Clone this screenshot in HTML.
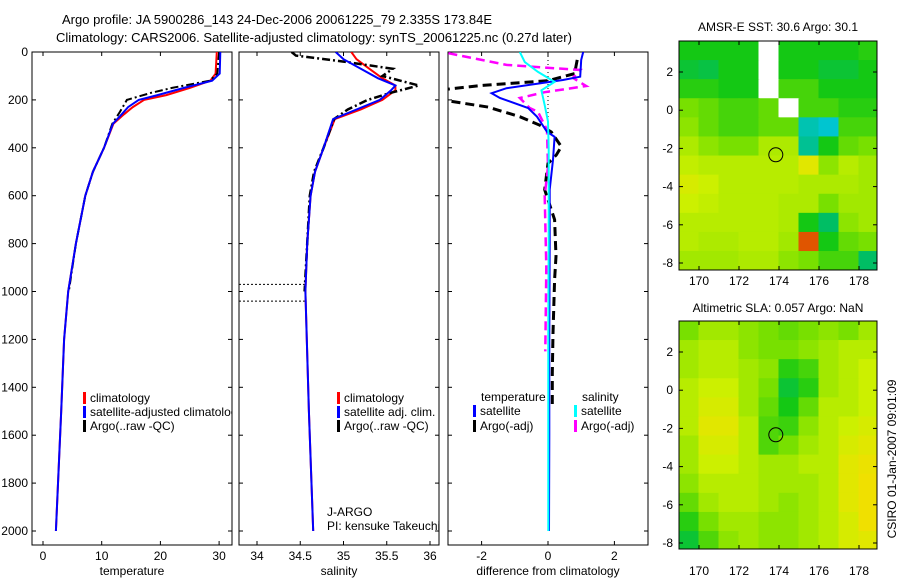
<!DOCTYPE html>
<html><head><meta charset="utf-8"><style>
body{margin:0;background:#fff;}
svg text{font-family:"Liberation Sans",sans-serif;font-size:12px;fill:#000;}
</style></head><body>
<svg id="fig" width="900" height="580" viewBox="0 0 900 580" xmlns="http://www.w3.org/2000/svg">
<text x="62" y="24" style="font-size:13px">Argo profile: JA 5900286_143 24-Dec-2006 20061225_79 2.335S 173.84E</text>
<text x="56" y="42" style="font-size:13px">Climatology: CARS2006. Satellite-adjusted climatology: synTS_20061225.nc (0.27d later)</text>
<g id="g"></g>
</svg>
<script>
// ---- profile data (depth in m) ----
const tClimDepth=[0,90,120,150,180,200,230,260,300,400,500,600,800,1000,1200,1500,2000];
const tClim=[29.6,29.4,28.5,25,21,17.2,15.3,13.8,12.0,10.4,8.5,7.2,5.6,4.3,3.6,3.1,2.2];
const tSat=[30.2,30.1,28.8,24,19.5,16.3,14.5,13.4,11.9,10.4,8.5,7.2,5.6,4.3,3.6,3.1,2.2];
const tArgoDepth=[0,90,120,150,170,200,250,300,400,500,600,800,1000];
const tArgo=[30.0,29.7,28.4,22,18.5,14.3,13.1,11.8,10.4,8.5,7.2,5.6,4.4];
const sClimDepth=[0,30,70,110,140,160,200,240,280,400,500,600,800,1000,1500,2000];
const sClim=[35.09,35.15,35.3,35.45,35.6,35.6,35.45,35.2,34.9,34.77,34.67,34.62,34.58,34.56,34.6,34.65];
const sSat=[34.91,35.0,35.2,35.4,35.6,35.55,35.42,35.15,34.88,34.77,34.67,34.62,34.58,34.56,34.6,34.65];
const sArgoDepth=[0,15,40,70,100,140,170,200,240,280,400,500,600,800,1000];
const sArgo=[34.4,34.45,35.0,35.57,35.45,35.87,35.55,35.28,35.05,34.89,34.77,34.66,34.61,34.58,34.55];
const dTSatDepth=[0,33,103,117,151,172,192,234,270,333,354,450,575,800,1200,1600,2000];
const dTSat=[1.06,1.0,0.97,0.45,-1.25,-1.7,-1.45,-0.6,-0.33,-0.03,0.2,0.15,0.05,0.05,0.04,0.04,0.03];
const dTArgoDepth=[33,90,120,140,158,200,230,270,306,334,395,430,465,575,700,853,950,1175,1342,1490];
const dTArgo=[0.88,0.8,0.0,-2,-3.2,-3.2,-1.8,-0.85,-0.24,0.1,0.4,0.25,0,-0.1,0.2,0.24,0.2,0.15,0.13,0.13];
const dSSatDepth=[0,42,83,125,160,222,290,400,800,1200,1600,2000];
const dSSat=[-0.85,-0.7,-0.3,0.2,-0.2,-0.1,0,0.02,0.02,0.01,0.01,0.01];
const dSArgoDepth=[5,54,75,108,142,168,192,234,250,325,480,600,900,1250];
const dSArgo=[-3,-1.25,0.97,0.75,1.15,-0.1,-0.85,-0.55,-0.3,-0.03,0,-0.1,-0.05,-0.08];
const depthTicks=[0,200,400,600,800,1000,1200,1400,1600,1800,2000];
const tTicks=[0,10,20,30];
const sTicks=[34,34.5,35,35.5,36];
const sTickLabels=["34","34.5","35","35.5","36"];
const dTicks=[-2,0,2];
// ---- map data (rows lat 3..-8, cols lon 169..178), null = no data ----
const sstGrid=[
[.5,.5,.5,.5,null,.5,.5,.5,.5,.52],
[.48,.47,.5,.5,null,.5,.5,.48,.48,.5],
[.52,.52,.5,.5,null,.55,.55,.5,.5,.5],
[.6,.58,.55,.55,.58,null,.55,.55,.52,.52],
[.62,.58,.55,.55,.58,.58,.4,.38,.55,.55],
[.65,.62,.6,.6,.65,.65,.42,.5,.58,.6],
[.67,.66,.66,.66,.66,.66,.72,.62,.66,.64],
[.7,.68,.66,.66,.66,.66,.65,.65,.65,.64],
[.68,.67,.66,.66,.66,.65,.65,.6,.64,.64],
[.66,.66,.66,.66,.66,.65,.5,.45,.62,.64],
[.66,.65,.65,.66,.66,.64,.9,.5,.58,.6],
[.64,.64,.64,.65,.65,.62,.6,.55,.55,.45]];
const slaGrid=[
[.6,.64,.64,.62,.6,.58,.6,.62,.6,.64],
[.64,.66,.66,.62,.6,.6,.62,.64,.66,.66],
[.64,.66,.66,.64,.62,.52,.55,.64,.66,.68],
[.66,.68,.68,.64,.6,.48,.52,.64,.66,.68],
[.66,.7,.7,.64,.58,.5,.58,.66,.66,.68],
[.66,.72,.72,.66,.56,.54,.62,.66,.68,.7],
[.64,.7,.7,.66,.56,.6,.64,.66,.7,.72],
[.64,.68,.68,.66,.64,.64,.66,.66,.72,.74],
[.62,.66,.66,.66,.64,.64,.64,.66,.72,.75],
[.58,.64,.66,.66,.64,.62,.64,.66,.72,.75],
[.52,.6,.64,.64,.62,.62,.64,.66,.7,.75],
[.48,.56,.62,.64,.62,.62,.64,.66,.7,.72]];
const mapLonTicks=[170,172,174,176,178];
const mapLatTicks=[2,0,-2,-4,-6,-8];
const argoLon=173.84, argoLat=-2.335;

const NS="http://www.w3.org/2000/svg";
const G=document.getElementById('g');
function mk(tag,attrs,parent){const e=document.createElementNS(NS,tag);for(const k in attrs)e.setAttribute(k,attrs[k]);(parent||G).appendChild(e);return e;}

const Y0=52, YS=0.2395, PB=545;
const yD=d=>Y0+d*YS;
const panels=[
 {name:'temperature',x0:32,x1:232,fx:v=>43+v*5.87},
 {name:'salinity',x0:239,x1:439,fx:v=>257+(v-34)*86.5},
 {name:'difference',x0:448,x1:648,fx:v=>548+v*33.2}];

function line(p,depths,vals,color,w,dash,name,clip){
  const pts=vals.map((v,i)=>p.fx(v).toFixed(1)+','+yD(depths[i]).toFixed(1)).join(' ');
  const el=mk('polyline',{points:pts,fill:'none',stroke:color,'stroke-width':w,'clip-path':'url(#'+clip+')'});
  if(dash)el.setAttribute('stroke-dasharray',dash);
  
  
}
const defs=mk('defs',{});
panels.forEach((p,i)=>{
  const cp=mk('clipPath',{id:'c'+i},defs);
  mk('rect',{x:p.x0,y:Y0,width:p.x1-p.x0,height:PB-Y0},cp);
});
// axes
panels.forEach((p,i)=>{
  const r=mk('rect',{x:p.x0,y:Y0,width:p.x1-p.x0,height:PB-Y0,fill:'none',stroke:'#000','stroke-width':1});
  
  
  depthTicks.forEach(d=>{
    const y=yD(d);
    mk('line',{x1:p.x0,x2:p.x0+4,y1:y,y2:y,stroke:'#000'});
    mk('line',{x1:p.x1-4,x2:p.x1,y1:y,y2:y,stroke:'#000'});
    if(i===0){const t=mk('text',{x:p.x0-4,y:y+4,'text-anchor':'end'});t.textContent=d;
      
      }
  });
});
function xt(p,vals,labels){
  vals.forEach((v,j)=>{const x=p.fx(v);
    mk('line',{x1:x,x2:x,y1:PB,y2:PB-4,stroke:'#000'});
    mk('line',{x1:x,x2:x,y1:Y0,y2:Y0+4,stroke:'#000'});
    const t=mk('text',{x:x,y:560,'text-anchor':'middle'});t.textContent=labels?labels[j]:v;
    
    });
}
xt(panels[0],tTicks);xt(panels[1],sTicks,sTickLabels);xt(panels[2],dTicks);
[['temperature',132],['salinity',339],['difference from climatology',548]].forEach(([s,x])=>{
  const t=mk('text',{x:x,y:575,'text-anchor':'middle'});t.textContent=s;
  
  });
// dotted lines
[970,1040].forEach(d=>{const l=mk('line',{x1:239,x2:305,y1:yD(d),y2:yD(d),stroke:'#000','stroke-dasharray':'2,2'});
  
  });
const zl=mk('line',{x1:548,x2:548,y1:Y0,y2:yD(330),stroke:'#000','stroke-dasharray':'1,3'});


// series
const P=panels;
line(P[0],tClimDepth,tClim,'#ff0000',2,null,'temp-climatology-line','c0');
line(P[0],tArgoDepth,tArgo,'#000',2,'8,3,2,3','temp-argo-line','c0');
line(P[0],tClimDepth,tSat,'#0000ff',2,null,'temp-satellite-line','c0');
line(P[1],sClimDepth,sClim,'#ff0000',2,null,'sal-climatology-line','c1');
line(P[1],sArgoDepth,sArgo,'#000',2.5,'8,3,2,3','sal-argo-line','c1');
line(P[1],sClimDepth,sSat,'#0000ff',2,null,'sal-satellite-line','c1');
line(P[2],dTArgoDepth,dTArgo,'#000',3,'9,5','temp-argo-diff-line','c2');
line(P[2],dSArgoDepth,dSArgo,'#ff00ff',2.5,'9,5','sal-argo-diff-line','c2');
line(P[2],dTSatDepth,dTSat,'#0000ff',2,null,'temp-satellite-diff-line','c2');
line(P[2],dSSatDepth,dSSat,'#00ffff',2,null,'sal-satellite-diff-line','c2');
// legends
function leg(x,y,color,label,clipId){
  if(color){const m=mk('rect',{x:x,y:y-10,width:3,height:12,fill:color});
    
    }
  const t=mk('text',{x:x+7,y:y});t.textContent=label;
  if(clipId)t.setAttribute('clip-path','url(#'+clipId+')');
  
  
}
leg(83,402,'#ff0000','climatology');leg(83,416,'#0000ff','satellite-adjusted climatology','c0');leg(83,430,'#000','Argo(..raw -QC)');
leg(337,402,'#ff0000','climatology');leg(337,416,'#0000ff','satellite adj. clim.');leg(337,430,'#000','Argo(..raw -QC)');
leg(474,401,null,'temperature');leg(473,415,'#0000ff','satellite');leg(473,430,'#000','Argo(-adj)');
leg(575,401,null,'salinity');leg(574,415,'#00ffff','satellite');leg(574,430,'#ff00ff','Argo(-adj)');
const ja=mk('text',{x:327,y:516});ja.textContent='J-ARGO';


const pi=mk('text',{x:327,y:530});pi.textContent='PI: kensuke Takeuchi';


// colormap
const stops=[[0,[0,64,255]],[.35,[0,200,255]],[.45,[0,190,100]],[.5,[20,200,20]],[.6,[120,224,0]],[.68,[204,240,0]],[.75,[240,224,0]],[.85,[240,128,0]],[1,[192,0,0]]];
function cmap(v){for(let i=1;i<stops.length;i++){if(v<=stops[i][0]){const a=stops[i-1],b=stops[i],t=(v-a[0])/(b[0]-a[0]);
  return 'rgb('+a[1].map((c,k)=>Math.round(c+(b[1][k]-c)*t)).join(',')+')';}}return 'rgb(192,0,0)';}
function drawMap(grid,top,bot,lat2y,latm8y,title,titleY,labY,nm){
  const x0=679,x1=877,fx=lon=>699+(lon-170)*20;
  const dy=(latm8y-lat2y)/10, fy=lat=>lat2y+(2-lat)*dy;
  const cid='m'+nm;const cp=mk('clipPath',{id:cid},defs);mk('rect',{x:x0,y:top,width:x1-x0,height:bot-top},cp);
  const g=mk('g',{'clip-path':'url(#'+cid+')'});
  
  
  grid.forEach((row,r)=>row.forEach((v,c)=>{
    const lat=3.6-r, lon=169+c;
    const cell=mk('rect',{x:fx(lon)-0.5,y:fy(lat)-0.5,width:21,height:dy+1,fill:v===null?'#fff':cmap(v)},g);
    
    
  }));
  const c=mk('circle',{cx:fx(argoLon),cy:fy(argoLat),r:7,fill:'none',stroke:'#000','stroke-width':1});
  
  
  const f=mk('rect',{x:x0,y:top,width:x1-x0,height:bot-top,fill:'none',stroke:'#000'});
  
  
  mapLonTicks.forEach(l=>{const x=fx(l);mk('line',{x1:x,x2:x,y1:bot,y2:bot-4,stroke:'#000'});mk('line',{x1:x,x2:x,y1:top,y2:top+4,stroke:'#000'});
    const t=mk('text',{x:x,y:labY,'text-anchor':'middle'});t.textContent=l;
    
    });
  mapLatTicks.forEach(l=>{const y=fy(l);mk('line',{x1:x0,x2:x0+4,y1:y,y2:y,stroke:'#000'});mk('line',{x1:x1-4,x2:x1,y1:y,y2:y,stroke:'#000'});
    const t=mk('text',{x:x0-6,y:y+4,'text-anchor':'end'});t.textContent=l;
    
    });
  const tt=mk('text',{x:778,y:titleY,'text-anchor':'middle'});tt.textContent=title;
  
  
}
drawMap(sstGrid,41,270,72,263,'AMSR-E SST: 30.6 Argo: 30.1',31,285,'sst');
drawMap(slaGrid,321,549,352,543,'Altimetric SLA: 0.057 Argo: NaN',312,575,'sla');
const cs=mk('text',{x:0,y:0,'text-anchor':'middle',transform:'translate(896,459) rotate(-90)'});cs.textContent='CSIRO 01-Jan-2007 09:01:09';


</script>
</body></html>
